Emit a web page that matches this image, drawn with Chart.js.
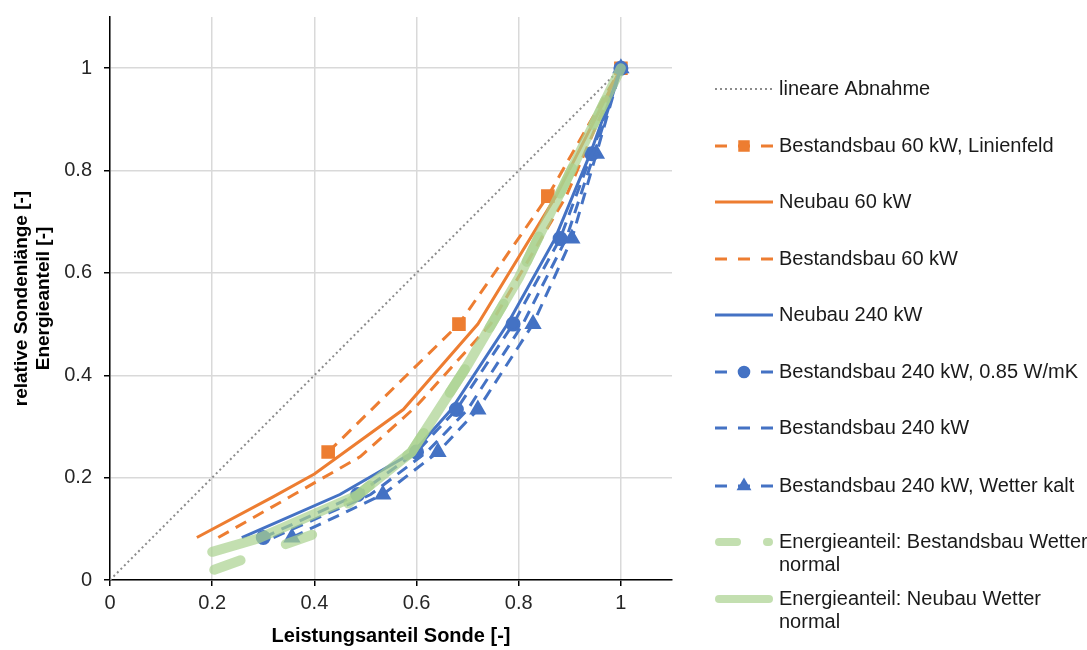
<!DOCTYPE html>
<html>
<head>
<meta charset="utf-8">
<script src="https://cdn.jsdelivr.net/npm/chart.js@4.4.1/dist/chart.umd.min.js"></script>
<style>
  html, body { margin: 0; padding: 0; background: #fff; }
</style>
</head>
<body>
<canvas id="chart" width="1087" height="650"></canvas>
<script>
// tick values
const xTicks = [0, 0.2, 0.4, 0.6, 0.8, 1];
const yTicks = [0, 0.2, 0.4, 0.6, 0.8, 1];

// series (x = Leistungsanteil, y = Sondenlänge / Energieanteil)
const linearX = [0, 1];
const linearY = [0, 1];

const linienfeldX = [0.427, 0.683, 0.857, 1];
const linienfeldY = [0.25, 0.5, 0.75, 1];

const neubau60X = [0.17, 0.32, 0.40, 0.574, 0.72, 0.873, 1];
const neubau60Y = [0.083, 0.163, 0.207, 0.333, 0.5, 0.75, 1];

const bestand60X = [0.212, 0.36, 0.49, 0.60, 0.745, 0.893, 1];
const bestand60Y = [0.083, 0.167, 0.241, 0.34, 0.5, 0.75, 1];

const neubau240X = [0.258, 0.45, 0.594, 0.668, 0.778, 0.871, 0.94, 1];
const neubau240Y = [0.083, 0.167, 0.25, 0.333, 0.5, 0.667, 0.833, 1];

const bestand240lambdaX = [0.30, 0.485, 0.60, 0.678, 0.789, 0.881, 0.943, 1];
const bestand240lambdaY = [0.083, 0.167, 0.25, 0.333, 0.5, 0.667, 0.833, 1];

const bestand240X = [0.32, 0.51, 0.62, 0.70, 0.808, 0.893, 0.948, 1];
const bestand240Y = [0.083, 0.167, 0.25, 0.333, 0.5, 0.667, 0.833, 1];

const bestand240kaltX = [0.356, 0.534, 0.642, 0.72, 0.828, 0.904, 0.952, 1];
const bestand240kaltY = [0.083, 0.167, 0.25, 0.333, 0.5, 0.667, 0.833, 1];

const energieBestandX = [0.204, 0.40, 0.49, 0.59, 0.70, 0.80, 1];
const energieBestandY = [0.02, 0.09, 0.17, 0.25, 0.42, 0.59, 1];

const energieNeubauX = [0.2, 0.29, 0.485, 0.59, 0.70, 0.80, 1];
const energieNeubauY = [0.055, 0.081, 0.166, 0.25, 0.42, 0.59, 1];

const xTitle = "Leistungsanteil Sonde [-]";
const yTitle = ["relative Sondenlänge [-]", "Energieanteil [-]"];

const ORANGE = "#ED7D31";
const BLUE = "#4472C4";
const GREEN = "rgba(169, 209, 142, 0.7)";
const FONT = "'Liberation Sans', Arial, sans-serif";

function pts(xs, ys) {
    return xs.map((x, i) => ({ x: x, y: ys[i] }));
}

function lineSet(label, xs, ys, color, width, dash, extra) {
    return Object.assign({
        label: label,
        data: pts(xs, ys),
        borderColor: color,
        backgroundColor: color,
        borderWidth: width,
        borderDash: dash,
        pointRadius: 0,
        pointHoverRadius: 0,
        showLine: true,
        fill: false,
        tension: 0
    }, extra || {});
}

const DASH = [12, 8];

const datasets = [
    lineSet("lineare Abnahme", linearX, linearY, "#8c8c8c", 2, [2, 3], { legendDash: [2, 3] }),
    lineSet("Bestandsbau 60 kW, Linienfeld", linienfeldX, linienfeldY, ORANGE, 3, DASH,
        { pointStyle: "rect", pointRadius: 7.5, legendDash: [12, 11] }),
    lineSet("Neubau 60 kW", neubau60X, neubau60Y, ORANGE, 3, [], { legendDash: [] }),
    lineSet("Bestandsbau 60 kW", bestand60X, bestand60Y, ORANGE, 3, DASH, { legendDash: [12, 11] }),
    lineSet("Neubau 240 kW", neubau240X, neubau240Y, BLUE, 3, [], { legendDash: [] }),
    lineSet("Bestandsbau 240 kW, 0.85 W/mK", bestand240lambdaX, bestand240lambdaY, BLUE, 3, DASH,
        { pointStyle: "circle", pointRadius: 6, legendDash: [12, 11] }),
    lineSet("Bestandsbau 240 kW", bestand240X, bestand240Y, BLUE, 3, DASH, { legendDash: [12, 11] }),
    lineSet("Bestandsbau 240 kW, Wetter kalt", bestand240kaltX, bestand240kaltY, BLUE, 3, DASH,
        { pointStyle: "triangle", pointRadius: 7, legendDash: [12, 11] }),
    lineSet("Energieanteil: Bestandsbau Wetter\nnormal", energieBestandX, energieBestandY, GREEN, 10, [28, 48],
        { borderCapStyle: "round", borderJoinStyle: "round", legendDash: [18, 30] }),
    lineSet("Energieanteil: Neubau Wetter\nnormal", energieNeubauX, energieNeubauY, GREEN, 10, [],
        { borderCapStyle: "round", borderJoinStyle: "round", legendDash: [] })
];
// later series on top, like the original
datasets.forEach((d, i) => { d.order = datasets.length - i; });

// legend drawn on the right, one row per series
const sideLegend = {
    id: "sideLegend",
    afterDraw(chart) {
        const ctx = chart.ctx;
        const x0 = 715, x1 = 773, textX = 779;
        const rowY = [89, 146, 202, 259, 315, 372, 428, 486, 542, 599];
        chart.data.datasets.forEach((ds, i) => {
            const y = rowY[i];
            ctx.save();
            ctx.strokeStyle = ds.borderColor;
            ctx.lineWidth = ds.borderCapStyle === "round" ? 8 : ds.borderWidth;
            ctx.setLineDash(ds.legendDash);
            ctx.lineCap = ds.borderCapStyle === "round" ? "round" : "butt";
            const pad = ds.borderCapStyle === "round" ? 4 : 0;
            ctx.beginPath();
            ctx.moveTo(x0 + pad, y);
            ctx.lineTo(x1 - pad, y);
            ctx.stroke();
            ctx.setLineDash([]);
            if (ds.pointRadius > 0) {
                Chart.helpers.drawPoint(ctx, {
                    pointStyle: ds.pointStyle,
                    radius: ds.pointRadius * 0.8,
                    rotation: 0,
                    borderWidth: 1
                }, (x0 + x1) / 2, y);
                ctx.fillStyle = ds.borderColor;
                ctx.fill();
            }
            ctx.fillStyle = "#1a1a1a";
            ctx.font = "20px " + FONT;
            ctx.textBaseline = "middle";
            ds.label.split("\n").forEach((line, k) => {
                ctx.fillText(line, textX, y + k * 23);
            });
            ctx.restore();
        });
    }
};

new Chart(document.getElementById("chart"), {
    type: "line",
    data: { datasets: datasets },
    plugins: [sideLegend],
    options: {
        responsive: false,
        animation: false,
        devicePixelRatio: 1,
        layout: { padding: { left: 0, right: 415, top: 17, bottom: 0 } },
        plugins: {
            legend: { display: false },
            tooltip: { enabled: false }
        },
        scales: {
            x: {
                type: "linear",
                min: 0,
                max: 1.1,
                afterBuildTicks: s => { s.ticks = xTicks.map(v => ({ value: v })); },
                afterFit: s => { s.height = 70; s.paddingLeft = 0; s.paddingRight = 0; },
                grid: { color: "#d9d9d9", lineWidth: 1.5, tickColor: "#000", tickLength: 6, tickWidth: 1.5 },
                border: { color: "#000", width: 1.5 },
                ticks: { color: "#262626", font: { family: FONT, size: 20 }, padding: 5, maxRotation: 0,
                    callback: v => String(v) },
                title: { display: true, text: xTitle, color: "#000",
                    font: { family: FONT, size: 20, weight: "bold", lineHeight: 1.15 },
                    padding: { top: 0, bottom: 2 } }
            },
            y: {
                type: "linear",
                min: 0,
                max: 1.1,
                afterBuildTicks: s => { s.ticks = yTicks.map(v => ({ value: v })); },
                afterFit: s => { s.width = 110; s.paddingTop = 0; s.paddingBottom = 0; },
                grid: { color: "#d9d9d9", lineWidth: 1.5, tickColor: "#000", tickLength: 6, tickWidth: 1.5 },
                border: { color: "#000", width: 1.5 },
                ticks: { color: "#262626", font: { family: FONT, size: 20 }, padding: 12,
                    callback: v => String(v) },
                title: { display: true, text: yTitle, color: "#000",
                    font: { family: FONT, size: 19, weight: "bold", lineHeight: 1.15 },
                    padding: { top: 11, bottom: 0 } }
            }
        }
    }
});
</script>
</body>
</html>
